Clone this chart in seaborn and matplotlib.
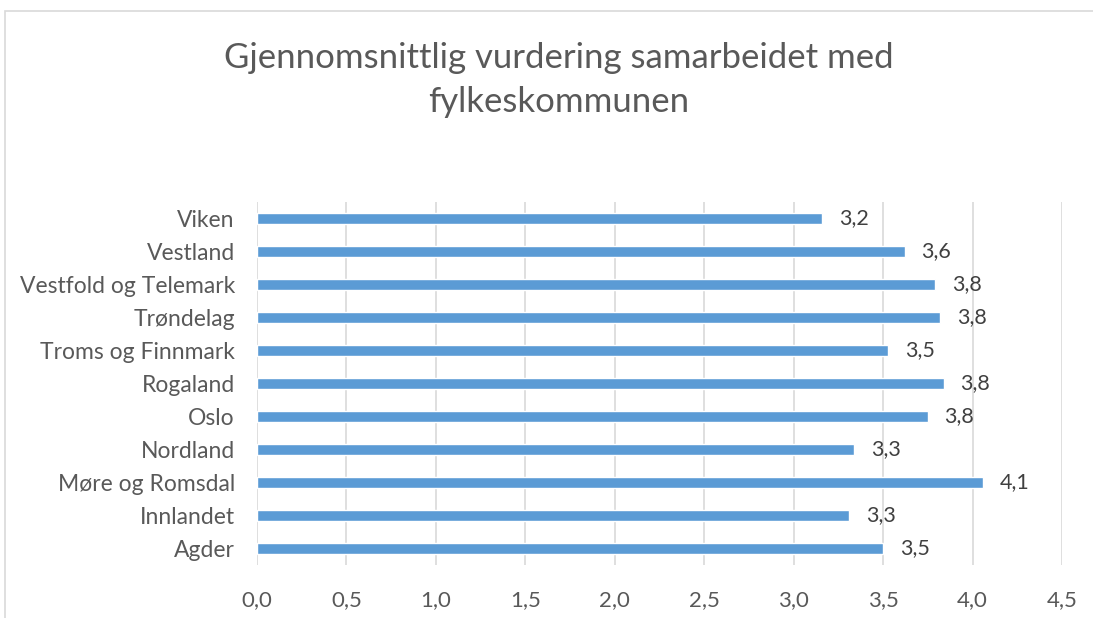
import matplotlib
matplotlib.use("Agg")
import matplotlib.pyplot as plt
import seaborn as sns
import pandas as pd
from matplotlib.patches import Rectangle

categories = ["Viken", "Vestland", "Vestfold og Telemark", "Trøndelag", "Troms og Finnmark",
              "Rogaland", "Oslo", "Nordland", "Møre og Romsdal", "Innlandet", "Agder"]
values = [3.16, 3.62, 3.79, 3.82, 3.53, 3.84, 3.75, 3.34, 4.06, 3.31, 3.50]
x_ticks = [0.0, 0.5, 1.0, 1.5, 2.0, 2.5, 3.0, 3.5, 4.0, 4.5]
title = "Gjennomsnittlig vurdering samarbeidet med\nfylkeskommunen"

sns.set_theme(style="white")
plt.rcParams['font.family'] = ['Lato', 'DejaVu Sans']

df = pd.DataFrame({"fylke": categories, "verdi": values})

W, H = 1093, 618
fig = plt.figure(figsize=(W / 100, H / 100), dpi=100)
ax = fig.add_axes([257 / W, 1 - 565 / H, (1062 - 257) / W, (565 - 202) / H])

sns.barplot(data=df, y="fylke", x="verdi", order=categories, color="#5b9bd5",
            width=0.35, ax=ax, saturation=1)

ax.set_xlim(0, 4.5)
ax.set_ylim(10.5, -0.5)
ax.set_xticks(x_ticks)
ax.set_xticklabels([f"{t:.1f}".replace(".", ",") for t in x_ticks])
ax.set_xlabel("")
ax.set_ylabel("")
ax.grid(axis="x", color="#d9d9d9", linewidth=1.2)
ax.grid(axis="y", visible=False)
ax.set_axisbelow(True)
for s in ax.spines.values():
    s.set_visible(False)
ax.tick_params(axis="x", length=0, pad=18, labelsize=16, labelcolor="#595959")
ax.tick_params(axis="y", length=0, pad=16, labelsize=16.5, labelcolor="#595959")

for c in ax.containers:
    ax.bar_label(c, labels=[f"{v:.1f}".replace(".", ",") for v in values],
                 padding=12, fontsize=15.5, color="#404040")

fig.text(559 / W, 1 - 80 / H, title, ha="center", va="center", fontsize=25,
         color="#595959", linespacing=1.45)

fig.patches.append(Rectangle((5 / W, -0.05), 1.2, 1 - 11 / H + 0.05, transform=fig.transFigure,
                             fill=False, edgecolor="#d9d9d9", linewidth=1.2))

fig.savefig("out.png", dpi=100)
